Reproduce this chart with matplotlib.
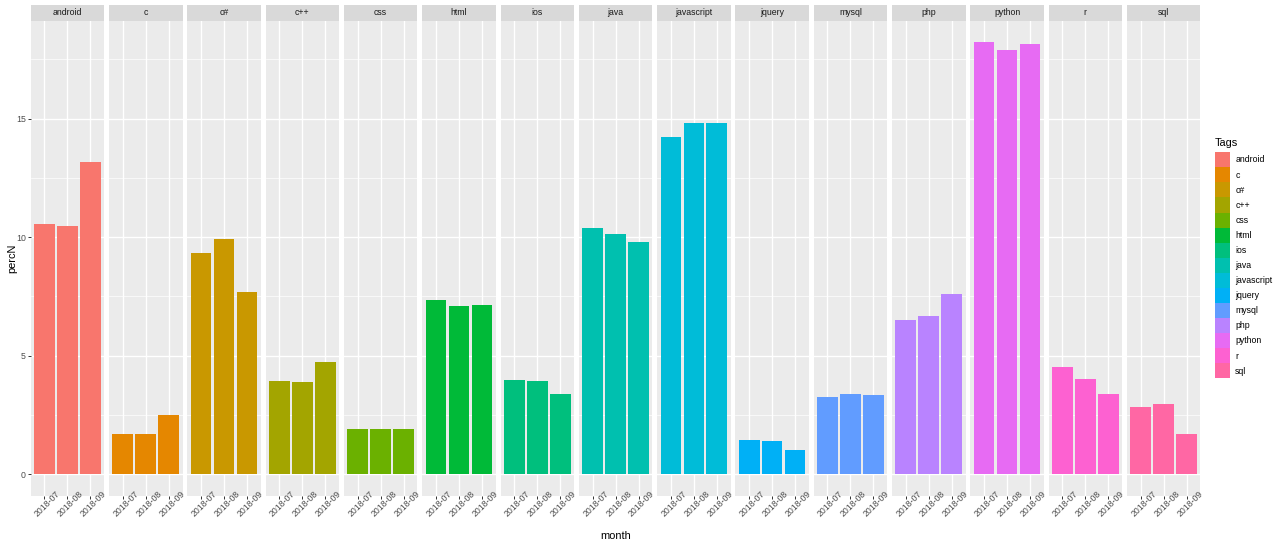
import matplotlib
matplotlib.use("Agg")
import matplotlib.pyplot as plt
from matplotlib.patches import Patch

tags = ["android", "c", "c#", "c++", "css", "html", "ios", "java", "javascript",
        "jquery", "mysql", "php", "python", "r", "sql"]
months = ["2018-07", "2018-08", "2018-09"]
perc_2018_07 = [10.57, 1.69, 9.31, 3.91, 1.89, 7.36, 3.96, 10.39, 14.24, 1.42, 3.27, 6.49, 18.22, 4.52, 2.85]
perc_2018_08 = [10.48, 1.69, 9.94, 3.87, 1.92, 7.10, 3.91, 10.13, 14.81, 1.39, 3.36, 6.66, 17.91, 4.03, 2.94]
perc_2018_09 = [13.17, 2.51, 7.70, 4.71, 1.89, 7.12, 3.37, 9.80, 14.81, 1.00, 3.33, 7.58, 18.13, 3.37, 1.69]
tag_colors = ["#F8766D", "#E58700", "#C99800", "#A3A500", "#6BB100", "#00BA38", "#00BF7D",
              "#00C0AF", "#00BCD8", "#00B0F6", "#619CFF", "#B983FF", "#E76BF3", "#FD61D1", "#FF67A4"]

plt.rcParams['font.family'] = ['Liberation Sans', 'DejaVu Sans']

W, H = 1280, 546
fig = plt.figure(figsize=(12.8, 5.46), dpi=100)
fig.patch.set_facecolor('white')

all_vals = perc_2018_07 + perc_2018_08 + perc_2018_09
ymax = max(all_vals)
ylim = (-0.05 * ymax, ymax * 1.05)

panel_left0 = 30.7
panel_w = 73.5
gap = 4.8
panel_top = 20.7
panel_bottom = 495.7
strip_top = 4.7

for i, tag in enumerate(tags):
    x0 = panel_left0 + i * (panel_w + gap)
    ax = fig.add_axes([x0 / W, (H - panel_bottom) / H, panel_w / W, (panel_bottom - panel_top) / H])
    ax.set_facecolor('#EBEBEB')
    vals = [perc_2018_07[i], perc_2018_08[i], perc_2018_09[i]]
    ax.bar(range(len(months)), vals, width=0.9, color=tag_colors[i], zorder=2, linewidth=0)
    ax.set_xlim(-0.6, len(months) - 0.4)
    ax.set_ylim(*ylim)
    ax.set_yticks([0, 5, 10, 15])
    ax.set_yticks([2.5, 7.5, 12.5, 17.5], minor=True)
    ax.set_xticks(range(len(months)))
    ax.set_axisbelow(True)
    ax.grid(which='major', color='white', lw=1.0)
    ax.grid(which='minor', axis='y', color='white', lw=0.5)
    for s in ax.spines.values():
        s.set_visible(False)
    ax.set_xticklabels(months, rotation=45, rotation_mode='anchor', ha='center', va='top',
                       fontsize=6.3, color='#4D4D4D')
    ax.tick_params(axis='x', which='major', length=2.0, width=0.7, color='#333333', pad=1.6)
    ax.tick_params(axis='y', which='minor', length=0)
    if i == 0:
        ax.tick_params(axis='y', which='major', length=2.0, width=0.7, color='#333333',
                       pad=1.6, labelsize=6.3, labelcolor='#4D4D4D')
    else:
        ax.tick_params(axis='y', which='major', length=0, labelleft=False)

    sax = fig.add_axes([x0 / W, (H - panel_top) / H, panel_w / W, (panel_top - strip_top) / H])
    sax.set_facecolor('#D9D9D9')
    sax.set_xticks([])
    sax.set_yticks([])
    for s in sax.spines.values():
        s.set_visible(False)
    sax.text(0.5, 0.5, tag, ha='center', va='center', fontsize=6.3, color='#1A1A1A',
             transform=sax.transAxes)

fig.text(12 / W, 1 - ((panel_top + panel_bottom) / 2) / H, 'percN', rotation=90,
         ha='center', va='center', fontsize=7.9, color='black')
fig.text((panel_left0 + (panel_left0 + 14 * (panel_w + gap) + panel_w)) / 2 / W, 1 - 536 / H,
         'month', ha='center', va='center', fontsize=7.9, color='black')

handles = [Patch(facecolor=c, edgecolor='none', label=t) for t, c in zip(tags, tag_colors)]
fs_px = 6.3 * 100 / 72
leg = fig.legend(handles=handles, loc='upper left', bbox_to_anchor=(1215 / W, 1 - 138 / H),
                 frameon=False, fontsize=6.3, title='Tags', title_fontsize=7.9,
                 handlelength=15.2 / fs_px, handleheight=1.31 * 15.2 / fs_px, labelspacing=0,
                 handletextpad=5 / fs_px, borderpad=0, borderaxespad=0, alignment='left')
try:
    leg._legend_box.sep = 3.0
except Exception:
    pass

fig.savefig('out.png', dpi=100, facecolor='white')
